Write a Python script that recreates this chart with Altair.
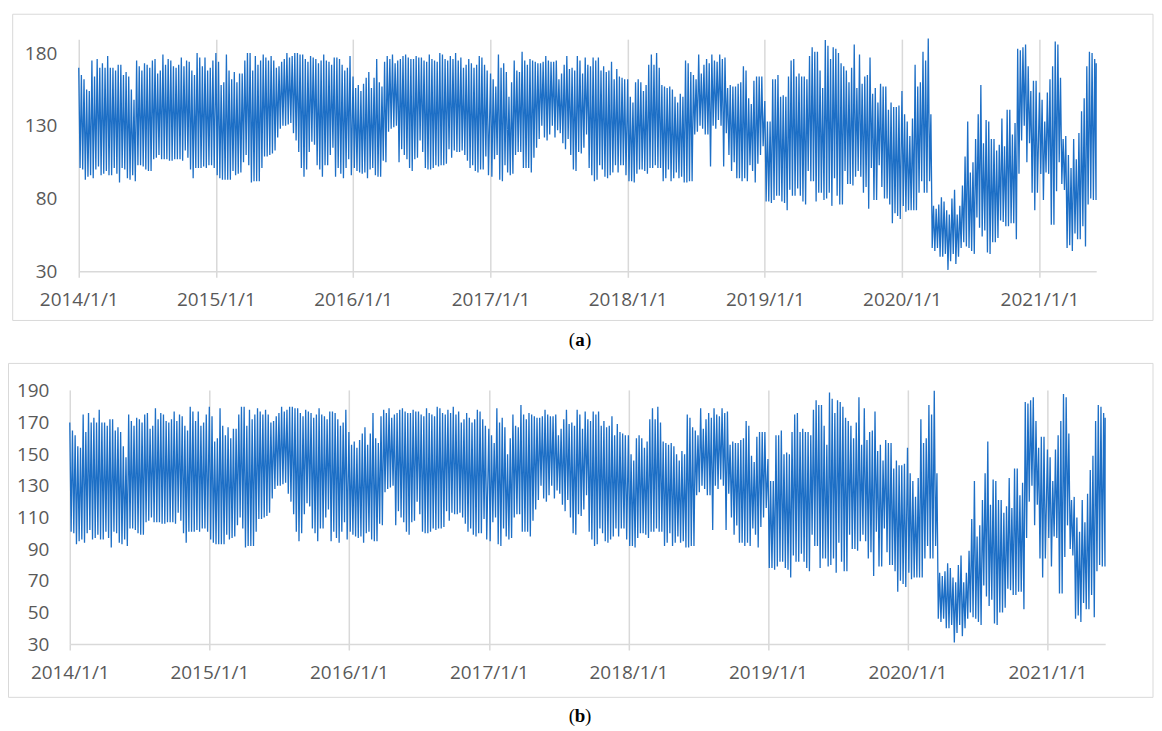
import altair as alt
import pandas as pd

# ---- data: weekly peak / trough values (same series in both panels) ----
hi_2014 = [170,165,162,155,154,175,164,176,170,173, 170,178,170,170,168,172,172,165,167,164,
           155,148,175,171,168,173,172,170,175,176, 166,168,179,172,176,175,171,170,172,177,
           171,175,174,168,165,180,177,171,177,168, 170,175]
lo_2014 = [101,100,93,95,96,94,100,102,96,97, 99,96,96,101,97,91,101,100,94,93,
           96,92,103,103,102,100,99,99,107,108, 110,107,107,107,106,106,107,107,107,106,
           113,108,100,94,101,101,101,102,101,103, 103,101]
hi_2015 = [180,174,158,160,179,168,162,167,160,166, 166,175,180,180,168,178,172,175,179,177,
           175,178,175,170,171,174,176,180,177,178, 180,180,179,179,176,174,178,177,176,173,
           175,179,175,174,172,177,177,176,172,168, 170,178]
lo_2015 = [96,94,93,93,93,93,99,96,97,98, 105,110,103,91,92,92,92,101,109,109,
           110,111,113,122,128,130,130,131,132,125, 120,112,101,95,100,112,119,117,103,100,
           95,103,103,110,115,95,101,97,94,101, 107,96]
hi_2016 = [164,156,158,154,159,163,167,156,163,176, 160,157,174,178,176,179,173,175,176,178,
           179,177,176,176,178,177,177,175,174,179, 176,175,174,180,179,176,175,178,176,180,
           175,177,170,172,176,173,170,172,178,177, 172,168]
lo_2016 = [101,99,98,97,98,94,100,101,96,95, 95,106,105,126,128,129,130,105,114,110,
           107,101,99,107,108,120,112,101,100,100, 101,103,102,103,103,104,114,108,113,112,
           112,113,110,106,101,103,99,98,100,100, 109,96]
hi_2017 = [166,162,157,179,170,173,167,150,160,175, 168,167,181,175,172,176,175,174,173,173,
           174,178,175,174,174,175,162,166,172,178, 169,170,168,178,175,166,177,172,171,177,
           175,177,168,171,167,168,174,162,169,164, 163,162]
lo_2017 = [95,107,110,93,92,103,98,96,97,110, 112,112,101,101,101,98,108,115,121,130,
           122,120,124,130,122,127,125,118,114,121, 110,100,99,112,111,115,124,101,96,92,
           93,103,100,95,94,96,98,103,98,103, 103,96]
hi_2018 = [162,150,146,160,162,160,154,158,172,179, 172,180,170,158,157,156,157,155,150,146,
           152,150,175,173,167,165,162,179,166,172, 176,173,179,175,174,179,176,177,156,158,
           157,157,159,160,171,168,149,145,161,164, 164,164]
lo_2018 = [92,92,91,97,100,100,99,97,101,101, 103,101,101,92,94,100,92,94,98,94,
           95,91,91,92,92,124,126,130,128,124, 124,102,130,128,134,130,102,125,110,99,
           105,94,94,92,94,92,103,99,91,104, 110,116]
hi_2019 = [147,133,133,162,162,165,150,151,150,164, 175,176,164,166,164,164,162,178,184,181,
           181,168,156,189,185,176,184,183,180,173, 171,168,160,170,186,156,179,159,164,165,
           177,152,156,146,159,157,157,141,146,143, 143,144]
lo_2019 = [78,78,77,79,82,82,78,77,72,86, 82,82,87,82,78,76,99,92,92,78,
           84,84,79,80,84,75,94,82,76,76, 99,90,90,89,95,99,95,84,88,73,
           101,79,79,103,88,80,80,76,63,70, 68,66]
hi_2020 = [154,138,133,123,135,172,157,160,181,175, 190,138,75,73,76,81,78,72,69,80,
           86,69,75,89,109,133,98,105,121,138, 158,118,134,133,121,121,113,117,135,116,
           141,141,124,132,183,182,184,186,171,154, 161,161]
lo_2020 = [75,71,72,72,72,72,84,92,84,84, 92,46,44,46,40,40,42,31,37,42,
           35,40,46,50,47,46,44,42,67,60, 54,58,43,42,50,50,53,65,64,61,
           61,63,63,52,97,120,130,105,118,84, 72,84]
hi_2021 = [153,148,133,153,162,171,188,186,163,121, 123,110,101,121,107,125,140,149,171,181,
           180,176]
lo_2021 = [97,79,98,97,62,62,85,105,90,86, 46,48,44,56,52,52,61,47,76,80,
           79,79]
end_value = 173

years = [2014, 2015, 2016, 2017, 2018, 2019, 2020, 2021]
hi = dict(zip(years, [hi_2014, hi_2015, hi_2016, hi_2017, hi_2018, hi_2019, hi_2020, hi_2021]))
lo = dict(zip(years, [lo_2014, lo_2015, lo_2016, lo_2017, lo_2018, lo_2019, lo_2020, lo_2021]))

y_ticks_a = [30, 80, 130, 180]
y_ticks_b = [30, 50, 70, 90, 110, 130, 150, 170, 190]


def ms(ts):
    return int(pd.Timestamp(ts, tz="UTC").value // 10**6)


rows = []
for yr in years:
    base = pd.Timestamp(f"{yr}-01-01", tz="UTC")
    for k, (h, l) in enumerate(zip(hi[yr], lo[yr])):
        t1 = base + pd.Timedelta(days=7 * k)
        t2 = t1 + pd.Timedelta(hours=84)
        rows.append({"t": int(t1.value // 10**6), "v": h})
        rows.append({"t": int(t2.value // 10**6), "v": l})
rows.append({"t": ms("2021-06-01"), "v": end_value})
df = pd.DataFrame(rows)

x_domain = [ms("2014-01-01"), ms("2021-06-01")]
year_ticks = [ms(f"{y}-01-01") for y in years]

BLUE = "#1d6fc6"
GRAY = "#d9d9d9"
LABEL = "#595959"
FONT = "Open Sans"
one = pd.DataFrame({"k": [0]})


def panel(width, height, xrange, ydomain, yticks, yoffset, ylabpad,
          hidden, border, label, label_xy):
    x_axis = alt.Axis(values=year_ticks,
                      labelExpr="utcFormat(datum.value, '%Y/%-m/%-d')",
                      grid=True, gridColor=GRAY, gridWidth=1.5,
                      domainColor=GRAY, domainWidth=1.5,
                      tickColor=GRAY, tickWidth=1.5, tickSize=6,
                      labelFont=FONT, labelFontSize=19, labelColor=LABEL,
                      labelPadding=13.5, labelOverlap=False, labelFlush=False)
    y_axis = alt.Axis(values=yticks, domain=False, ticks=False, grid=False,
                      labelFont=FONT, labelFontSize=19, labelColor=LABEL,
                      labelPadding=ylabpad, offset=yoffset)
    line = alt.Chart(df).mark_line(color=BLUE, strokeWidth=1.3).encode(
        x=alt.X("t:T", title=None,
                scale=alt.Scale(type="utc", domain=x_domain, range=xrange, nice=False),
                axis=x_axis),
        y=alt.Y("v:Q", title=None,
                scale=alt.Scale(domain=ydomain, nice=False, zero=False),
                axis=y_axis),
    )
    hid = alt.Chart(one).mark_rect(fill="white", fillOpacity=0).encode(
        x=alt.value(hidden[0]), x2=alt.value(hidden[1]),
        y=alt.value(hidden[2]), y2=alt.value(hidden[3]))
    box = alt.Chart(one).mark_rect(fill="white", fillOpacity=0, stroke=GRAY, strokeWidth=1).encode(
        x=alt.value(border[0]), x2=alt.value(border[1]),
        y=alt.value(border[2]), y2=alt.value(border[3]))
    cx, cy = label_xy
    t1 = alt.Chart(one).mark_text(text="(", font="Liberation Serif", fontSize=19,
                                  align="right", baseline="middle", color="black").encode(
        x=alt.value(cx - 5), y=alt.value(cy))
    t2 = alt.Chart(one).mark_text(text=label, font="Liberation Serif", fontSize=19, fontWeight="bold",
                                  align="center", baseline="middle", color="black").encode(
        x=alt.value(cx), y=alt.value(cy))
    t3 = alt.Chart(one).mark_text(text=")", font="Liberation Serif", fontSize=19,
                                  align="left", baseline="middle", color="black").encode(
        x=alt.value(cx + 5), y=alt.value(cy))
    return alt.layer(hid, box, line, t1, t2, t3).properties(width=width, height=height)


pa = panel(1030, 233, [9, 1030], [30, 189.6], y_ticks_a, -9, 22,
           hidden=(-62, 1088, -29.7, 324), border=(-57.3, 1087, -25, 282.3),
           label="a", label_xy=(512, 302.3))
pb = panel(1039, 255, [0, 1039], [30, 190.6], y_ticks_b, 0, 21,
           hidden=(-62, 1088, -27.1, 326), border=(-61.5, 1087, -26.6, 308.5),
           label="b", label_xy=(512, 327.5))

chart = alt.vconcat(pa, pb, spacing=0).properties(
    padding=0, background="white"
).configure_view(strokeOpacity=0)

chart.save("out.html", embed_options={"renderer": "svg", "actions": False})
